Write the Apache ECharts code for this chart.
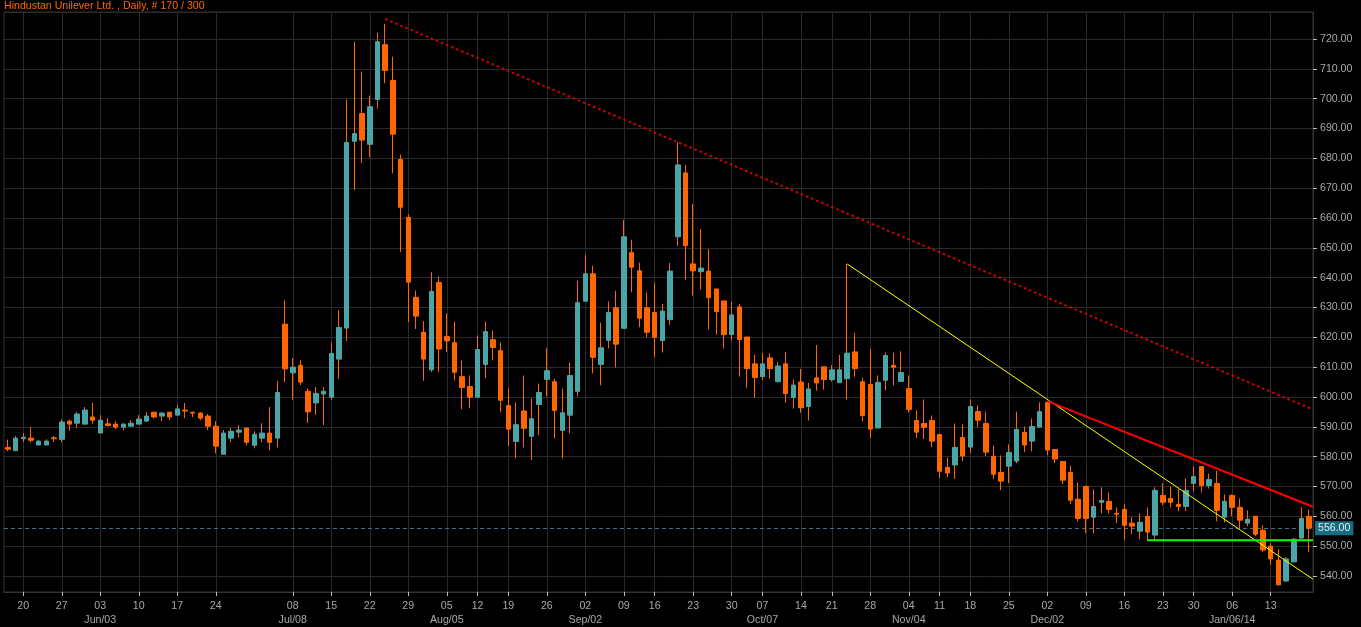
<!DOCTYPE html>
<html>
<head>
<meta charset="utf-8">
<script src="https://cdn.jsdelivr.net/npm/echarts@6/dist/echarts.min.js"></script>
<style>
html,body{margin:0;padding:0;background:#000;}
#chart{width:1361px;height:627px;}
</style>
</head>
<body>
<div id="chart"></div>
<script>
const chartTitle = 'Hindustan Unilever Ltd. , Daily, # 170 / 300';

const openP = [
583.1,582.0,586.0,586.2,583.9,583.9,586.3,585.8,591.9,591.2,
590.9,593.3,587.9,591.0,590.9,589.9,590.2,590.9,591.9,594.9,
593.6,594.9,593.9,595.6,594.9,594.6,593.6,590.2,580.8,586.2,
588.2,589.6,583.8,586.2,587.9,586.2,624.4,608.1,610.6,601.9,
598.0,601.0,599.9,612.7,623.1,685.7,695.0,684.7,699.7,718.1,
706.1,679.6,660.2,633.4,621.7,609.1,638.4,620.3,618.2,606.8,
603.5,599.9,610.9,619.2,615.5,597.1,585.1,595.3,586.8,597.5,
605.9,605.1,588.8,593.9,601.9,632.1,641.3,610.9,619.0,629.9,
623.0,648.4,642.3,629.9,628.3,618.9,625.9,653.7,675.1,644.6,
642.0,642.2,636.2,632.2,620.9,630.2,620.1,611.1,606.8,613.1,
605.1,611.1,599.8,605.0,596.8,606.4,610.1,605.8,604.8,606.1,
615.1,605.1,604.2,589.6,605.6,610.6,605.2,602.8,592.1,591.1,
592.1,587.4,576.4,577.2,586.4,583.2,595.1,591.1,580.1,574.7,
576.8,578.5,588.1,585.2,589.9,598.2,582.4,578.4,574.7,565.7,
570.0,559.7,564.7,565.0,561.0,562.3,557.7,555.0,560.0,553.7,
567.0,566.0,564.0,563.3,571.0,576.7,570.3,571.0,559.7,567.0,
563.0,557.7,560.0,555.3,550.0,545.3,538.3,544.7,552.7,560.0
];
const closeP = [
582.5,586.2,586.5,585.5,585.2,585.2,586.0,591.6,590.9,594.3,
595.6,592.2,592.2,590.4,589.9,590.9,591.2,592.6,593.6,593.3,
594.6,593.3,596.0,595.3,594.6,592.9,590.2,583.5,587.9,588.5,
588.9,584.8,587.5,587.9,584.8,601.5,609.4,610.0,605.0,595.0,
601.2,601.9,614.6,623.3,685.3,688.3,686.1,697.3,719.1,709.5,
688.1,663.6,638.5,627.1,612.7,635.4,616.1,618.8,608.3,603.2,
599.9,615.9,621.9,616.6,598.9,589.2,590.7,589.5,592.7,601.5,
608.8,595.5,594.7,607.2,631.6,641.3,613.3,616.5,628.3,617.7,
653.7,643.5,626.4,621.7,620.0,628.8,642.2,677.8,650.7,642.3,
643.2,633.3,628.6,620.9,627.5,619.2,609.5,606.5,611.1,609.5,
610.4,601.1,604.0,596.4,602.7,604.7,605.8,609.1,609.1,614.7,
609.5,593.8,589.2,604.9,613.9,610.0,608.2,595.8,588.2,589.8,
585.2,575.1,574.5,583.1,580.2,596.8,592.2,581.5,574.1,571.8,
581.4,589.1,583.9,590.1,595.1,582.2,579.2,572.1,565.4,559.3,
559.3,563.3,565.3,562.3,560.7,557.0,556.7,558.0,554.7,568.7,
564.7,564.7,563.3,568.7,573.3,570.3,572.3,562.0,565.0,563.0,
558.7,559.0,554.0,548.7,545.7,537.0,545.7,552.3,559.3,556.0
];
const lowP = [
581.8,582.0,584.9,584.8,583.9,583.9,584.9,584.8,588.7,589.7,
590.9,591.0,587.9,590.2,589.2,588.9,590.2,590.9,591.6,592.9,
591.9,592.2,593.9,592.9,593.3,592.2,588.9,581.1,580.8,584.8,
586.5,583.8,582.8,584.8,582.1,583.1,605.0,599.0,604.0,591.3,
594.0,590.6,599.0,606.0,618.8,669.3,678.4,680.4,696.7,705.2,
675.0,648.6,625.1,622.8,605.4,608.4,608.4,615.1,605.6,595.9,
596.2,599.9,606.3,612.3,594.9,583.5,579.4,583.1,578.8,587.2,
600.2,586.1,579.4,587.8,600.2,632.1,607.9,603.9,616.3,609.9,
623.0,635.1,623.4,620.0,613.3,614.9,624.2,650.7,639.3,634.0,
636.0,622.6,620.9,616.2,618.9,606.8,603.1,599.8,605.8,606.1,
605.1,598.1,596.1,594.7,592.1,602.1,602.5,605.1,604.8,599.1,
606.8,591.8,586.2,589.6,602.2,603.9,605.2,594.8,586.2,585.9,
583.2,572.8,573.1,572.5,578.5,581.2,589.9,580.2,572.5,568.8,
571.1,577.8,581.5,581.8,589.9,580.5,577.8,570.8,564.1,558.3,
554.3,554.3,561.0,561.0,557.7,552.0,554.0,552.3,551.7,551.7,
563.7,563.0,561.7,561.7,568.3,568.0,569.3,558.3,558.0,560.0,
556.0,556.7,553.3,548.0,543.7,537.0,538.0,544.7,552.3,548.0
];
const highP = [
585.7,586.9,587.9,589.9,585.5,585.8,586.9,592.5,592.4,594.9,
596.6,598.0,593.9,592.9,591.9,591.2,592.2,593.9,594.9,594.9,
594.9,594.9,597.3,598.0,594.9,594.9,594.3,591.9,588.9,589.6,
590.6,589.6,588.5,591.2,596.6,605.4,632.4,613.0,612.3,602.9,
603.3,603.3,618.3,629.0,699.7,719.1,709.1,701.0,722.1,725.1,
714.1,681.3,661.2,635.7,625.4,641.8,640.4,628.0,625.3,612.2,
607.2,620.6,625.3,622.2,618.2,602.8,598.1,607.2,599.4,604.5,
616.5,606.1,602.8,611.5,639.0,647.7,644.0,624.9,632.0,635.6,
659.4,652.7,645.0,635.0,638.3,631.2,644.9,685.3,677.8,664.7,
656.3,649.6,636.2,632.2,631.8,631.2,620.1,614.1,614.7,614.7,
611.7,615.1,605.8,609.4,604.7,617.4,610.1,610.7,614.1,644.6,
621.5,606.5,616.0,607.2,614.9,614.9,615.3,607.2,595.5,599.2,
593.8,587.4,579.7,591.1,590.8,599.2,597.2,595.1,583.7,580.4,
584.1,595.1,590.1,592.8,598.2,598.5,582.4,578.4,577.0,571.3,
570.3,569.0,569.7,568.0,563.0,564.0,559.7,561.0,563.0,569.7,
571.0,570.0,569.0,572.7,576.7,576.7,574.3,575.3,567.3,567.3,
566.0,562.0,560.0,557.0,551.0,549.0,546.3,552.7,563.0,562.3
];

// week ticks (candle index -> day label) and month labels
const tickIndex = [2,7,12,17,22,27,37,42,47,52,57,61,65,70,75,80,84,89,94,98,103,107,112,117,121,125,130,135,140,145,150,154,159,164];
const tickDay = ['20','27','03','10','17','24','08','15','22','29','05','12','19','26','02','09','16','23','30','07','14','21','28','04','11','18','25','02','09','16','23','30','06','13'];
const monthIndex = [12,37,57,75,98,117,135,159];
const monthLabel = ['Jun/03','Jul/08','Aug/05','Sep/02','Oct/07','Nov/04','Dec/02','Jan/06/14'];

const lastPrice = 556.00;
// trend lines as [candle index, price] pairs (169.5 = right edge of the plot)
const dottedTrend = [[49, 726.7], [169.5, 595.8]];
const yellowTrend = [[109, 644.6], [169.5, 538.9]];
const redTrend = [[135, 598.6], [169.5, 563.2]];
const greenLevel = [[148, 552.0], [169.5, 552.0]];

const categories = openP.map((_, i) => String(i));
const dayMap = {}; tickIndex.forEach((t, k) => dayMap[t] = tickDay[k]);
const monMap = {}; monthIndex.forEach((t, k) => monMap[t] = monthLabel[k]);
const isTick = (idx) => dayMap[idx] !== undefined;

const wickData = openP.map((o, i) => [o, closeP[i], lowP[i], highP[i]]);
const bodyData = openP.map((o, i) => [o, closeP[i], Math.min(o, closeP[i]), Math.max(o, closeP[i])]);

const TEAL = '#4aa6a6', ORANGE = '#ff6600';
const FONT = "'Liberation Sans', Arial, sans-serif";

const trendSeries = (name, pts, style) => ({
  name, type: 'line', xAxisIndex: 1, yAxisIndex: 0, data: pts, z: 6, silent: true,
  showSymbol: false, symbol: 'none', lineStyle: style, clip: false
});

const chart = echarts.init(document.getElementById('chart'), null, {renderer: 'canvas'});
chart.setOption({
  backgroundColor: '#000',
  animation: false,
  title: {
    text: chartTitle, left: 2, top: 0, padding: [1, 2],
    textStyle: {color: ORANGE, fontSize: 10.6, fontWeight: 'normal', fontFamily: FONT}
  },
  grid: {left: 4, right: 48, top: 12, bottom: 35, show: true, borderColor: '#333', borderWidth: 1, backgroundColor: '#000'},
  xAxis: [{
    type: 'category', data: categories, boundaryGap: true,
    axisLine: {show: true, onZero: false, lineStyle: {color: '#333'}},
    axisTick: {show: true, alignWithLabel: true, interval: isTick, length: 4, lineStyle: {color: '#bbb'}},
    axisLabel: {
      interval: isTick, color: '#a8a8a8', fontSize: 10.6, fontFamily: FONT, margin: 7, lineHeight: 14,
      formatter: (v) => { const i = Number(v); return (dayMap[i] || '') + (monMap[i] ? '\n' + monMap[i] : ''); }
    },
    splitLine: {show: true, interval: isTick, alignWithLabel: true, lineStyle: {color: '#2a2a2a', width: 1}}
  }, {
    type: 'value', show: false, min: -0.5, max: openP.length - 0.5, gridIndex: 0,
    splitLine: {show: false}, axisLine: {show: false, onZero: false}, axisTick: {show: false}, axisLabel: {show: false}
  }],
  yAxis: {
    type: 'value', position: 'right', min: 534.62, max: 729.05, splitNumber: 20,
    axisLine: {show: true, onZero: false, lineStyle: {color: '#333'}},
    axisTick: {show: true, length: 4, lineStyle: {color: '#bbb'}},
    axisLabel: {
      color: '#a8a8a8', fontSize: 10.6, fontFamily: FONT, margin: 7, showMinLabel: false, showMaxLabel: false,
      formatter: (v) => Math.abs(v / 10 - Math.round(v / 10)) < 1e-6 ? v.toFixed(2) : ''
    },
    splitLine: {show: true, lineStyle: {color: '#2a2a2a', width: 1}}
  },
  series: [
    {
      name: 'wicks', type: 'candlestick', data: wickData, barWidth: 1, z: 2, silent: true,
      itemStyle: {color: ORANGE, color0: ORANGE, borderColor: ORANGE, borderColor0: ORANGE, borderWidth: 1},
      markLine: {
        silent: true, symbol: ['none', 'none'], z: 1, animation: false,
        label: {show: true, position: 'end', distance: 2, formatter: lastPrice.toFixed(2),
          color: '#e8e8e8', backgroundColor: '#176e82', padding: [2, 3, 1, 3], fontSize: 10.6, fontFamily: FONT},
        lineStyle: {color: '#3c7480', type: [4, 3], width: 1},
        data: [{yAxis: lastPrice}]
      }
    },
    {
      name: 'bodies', type: 'candlestick', data: bodyData, barWidth: 5, z: 3, silent: true,
      itemStyle: {color: TEAL, color0: ORANGE, borderColor: TEAL, borderColor0: ORANGE, borderWidth: 1}
    },
    trendSeries('dotted', dottedTrend, {color: '#d40000', width: 2, type: [2.5, 3]}),
    trendSeries('yellow', yellowTrend, {color: '#ffff00', width: 1, type: 'solid'}),
    trendSeries('red', redTrend, {color: '#ff0000', width: 2, type: 'solid'}),
    trendSeries('green', greenLevel, {color: '#00ff00', width: 2, type: 'solid'})
  ]
});
</script>
</body>
</html>
